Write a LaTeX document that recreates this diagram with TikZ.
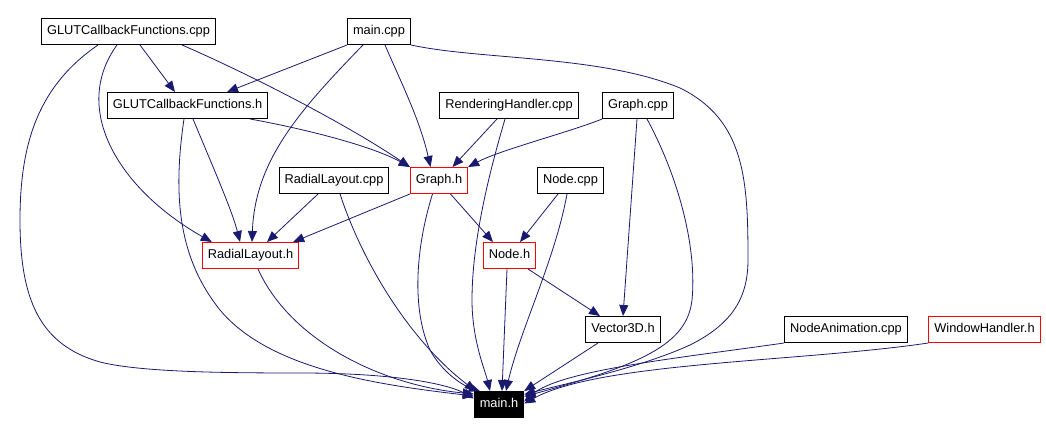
\documentclass[tikz,border=0pt]{standalone}
\usepackage{fontspec}
\setmainfont{Liberation Sans}
\usetikzlibrary{arrows.meta}
\definecolor{edgeblue}{HTML}{191970}

\begin{document}
\begin{tikzpicture}[
      x=1bp, y=-1bp,
      font=\fontsize{12.8bp}{14bp}\selectfont,
      text height=9.5bp,
      text depth=2.5bp,
      file/.style={draw=black,line width=1bp,fill=white,minimum height=26bp,inner xsep=5.5bp,inner ysep=0pt},
      hdr/.style={file,draw=red},
      mainbox/.style={file,fill=black,text=white},
      dep/.style={draw=edgeblue,line width=0.8bp,-{Triangle[length=11bp,width=9bp]}},
      ]
  \useasboundingbox (0,0) rectangle (1046,435);
  % files
  \node[file] (gcpp)   at (128.5,31.5) {GLUTCallbackFunctions.cpp};
  \node[file] (mcpp)   at (379,31.5)   {main.cpp};
  \node[file] (gh)     at (187.5,105.5) {GLUTCallbackFunctions.h};
  \node[file] (rhcpp)  at (509,105.5)  {RenderingHandler.cpp};
  \node[file] (gracpp) at (638,105.5)  {Graph.cpp};
  \node[file] (rlcpp)  at (334,180.5)  {RadialLayout.cpp};
  \node[hdr]  (grh)    at (439,180.5)  {Graph.h};
  \node[file] (ncpp)   at (570.5,180.5) {Node.cpp};
  \node[hdr]  (rlh)    at (250.5,255.5) {RadialLayout.h};
  \node[hdr]  (nh)     at (509.5,255.5) {Node.h};
  \node[file] (v3h)    at (623,329.5)  {Vector3D.h};
  \node[file] (nacpp)  at (846,329.5)  {NodeAnimation.cpp};
  \node[hdr]  (whh)    at (984.5,329.5) {WindowHandler.h};
  \node[mainbox] (mh)  at (499,404.5)  {main.h};

  % includes
  \draw[dep] ([xshift=11.5bp]gcpp.south) -- ([xshift=-12.5bp]gh.north);
  \draw[dep] ([xshift=53.5bp]gcpp.south) .. controls (240,70) and (340,120) .. (grh.north west);
  \draw[dep] ([xshift=-11.5bp]gcpp.south) .. controls (70,110) and (120,190) .. ([xshift=10bp]rlh.north west);
  \draw[dep] ([xshift=-30.5bp]gcpp.south) .. controls (40,85) and (20,140) .. (20,220)
    .. controls (20,300) and (40,345) .. (100,362) .. controls (140,372) and (220,373) .. (300,373)
    .. controls (400,373) and (450,385) .. ([yshift=6bp]mh.west);

  \draw[dep] (mcpp.south west) -- ([xshift=39.5bp]gh.north);
  \draw[dep] ([xshift=-16bp]mcpp.south) .. controls (300,110) and (255,160) .. ([xshift=1.5bp]rlh.north);
  \draw[dep] ([xshift=6bp]mcpp.south) .. controls (400,80) and (420,120) .. ([xshift=-8.5bp]grh.north);
  \draw[dep] (mcpp.south east) .. controls (480,60) and (600,55) .. (680,88)
    .. controls (745,120) and (748,180) .. (748,260) .. controls (748,300) and (730,325) .. (690,345)
    .. controls (640,368) and (560,385) .. ([yshift=10bp]mh.east);

  \draw[dep] ([xshift=62.5bp]gh.south) .. controls (300,128) and (370,145) .. (grh.north west);
  \draw[dep] ([xshift=5.5bp]gh.south) .. controls (210,160) and (232,210) .. ([xshift=-10.5bp]rlh.north);
  \draw[dep] ([xshift=-3.5bp]gh.south) .. controls (172,200) and (180,260) .. (220,310)
    .. controls (270,370) and (380,385) .. ([yshift=8.5bp]mh.west);

  \draw[dep] ([xshift=-12bp]rhcpp.south) -- ([xshift=13.5bp]grh.north);
  \draw[dep] ([xshift=-4bp]rhcpp.south) .. controls (490,170) and (472,240) .. (472,300)
    .. controls (472,340) and (485,370) .. ([xshift=-9bp]mh.north);

  \draw[dep] (gracpp.south west) .. controls (570,132) and (500,150) .. (grh.north east);
  \draw[dep] ([xshift=-1bp]gracpp.south) -- (v3h.north);
  \draw[dep] ([xshift=9bp]gracpp.south) .. controls (680,180) and (697,250) .. (692,300)
    .. controls (687,345) and (640,365) .. ([yshift=8bp]mh.east);

  \draw[dep] ([xshift=-16bp]rlcpp.south) -- ([xshift=16.5bp]rlh.north);
  \draw[dep] ([xshift=6bp]rlcpp.south) .. controls (365,270) and (415,345) .. ([xshift=2bp]mh.north west);

  \draw[dep] (grh.south west) -- ([xshift=-6bp]rlh.north east);
  \draw[dep] ([xshift=11.5bp]grh.south) -- ([xshift=-16.5bp]nh.north);
  \draw[dep] ([xshift=-6.5bp]grh.south) .. controls (415,250) and (412,310) .. (430,350)
    .. controls (442,372) and (462,385) .. ([xshift=6bp]mh.north west);

  \draw[dep] ([xshift=-12.5bp]ncpp.south) -- ([xshift=10.5bp]nh.north);
  \draw[dep] ([xshift=-3.5bp]ncpp.south) .. controls (555,260) and (520,330) .. ([xshift=7bp]mh.north);

  \draw[dep] ([xshift=7.5bp]rlh.south) .. controls (290,340) and (380,385) .. ([yshift=10.5bp]mh.west);

  \draw[dep] ([xshift=-2.5bp]nh.south) -- ([xshift=3bp]mh.north);
  \draw[dep] ([xshift=18.5bp]nh.south) -- ([xshift=-23bp]v3h.north);

  \draw[dep] ([xshift=-25bp]v3h.south) -- (mh.north east);

  \draw[dep] (nacpp.south west) .. controls (680,358) and (560,370) .. ([yshift=3bp]mh.east);
  \draw[dep] (whh.south west) .. controls (800,362) and (600,362) .. ([yshift=1bp]mh.east);
\end{tikzpicture}
\end{document}
